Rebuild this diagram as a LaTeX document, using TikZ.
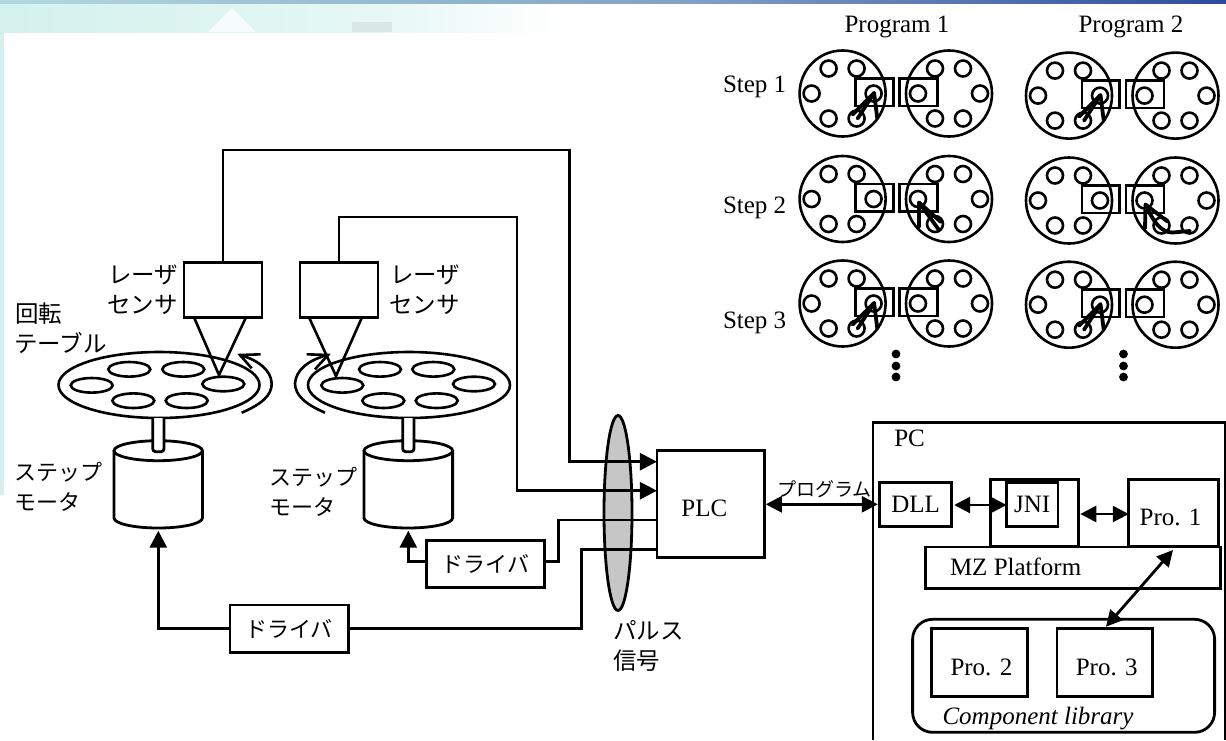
\documentclass[tikz,border=0pt]{standalone}
\usepackage{fontspec}
\usetikzlibrary{arrows.meta,shapes.geometric,calc}
\setmainfont{Liberation Serif}
\newfontfamily\jpfont{Noto Sans CJK JP}
\definecolor{bandA}{HTML}{B2DADE}
\definecolor{bandB}{HTML}{7FA0C4}
\definecolor{bandC}{HTML}{2D4B9E}
\definecolor{texA}{HTML}{D4F1EE}
\definecolor{texB}{HTML}{E6F8F4}
\definecolor{patgray}{HTML}{C6C6C6}
\tikzset{
  boxnode/.style={draw,line width=2.8pt,inner sep=0pt,outer sep=0pt,fill=white,font=\fontsize{25}{30}\selectfont},
  serif/.style={inner sep=0pt,outer sep=0pt,font=\fontsize{25}{30}\selectfont},
  jp/.style={inner sep=0pt,outer sep=0pt,anchor=west,font=\jpfont\fontsize{23.5}{28}\selectfont},
  jpsmall/.style={inner sep=0pt,outer sep=0pt,anchor=west,font=\jpfont\fontsize{22}{26}\selectfont},
  wire/.style={line width=2.8pt,line join=miter},
  pit/.style={-{Triangle[length=17pt,width=17pt]}},
  both/.style={{Triangle[length=16pt,width=16pt]}-{Triangle[length=16pt,width=16pt]}},
  thin line/.style={line width=2.6pt},
  mark arrow/.style={line width=3.8pt,line cap=round,line join=round}
}
\newcommand{\wheelset}[2]{%
  \begin{scope}[shift={(#1,#2)}]
    \draw[thin line] (0,0) circle[radius=43pt];
    \foreach \hx/\hy in {-14/-25,14/-25,-31/0,31/0,-14/25,14/25}
      \draw[thin line] (\hx,\hy) circle[radius=8pt];
  \end{scope}}
\newcommand{\stepgroup}[3]{% x of left wheel, x of right wheel, y
  \wheelset{#1}{#3}\wheelset{#2}{#3}
  \begin{scope}[shift={(#1,#3)}]
    \draw[thin line] (12.8,-15) rectangle (50.7,12.4);
  \end{scope}
  \begin{scope}[shift={(#2,#3)}]
    \draw[thin line] (-49.7,-15) rectangle (-11.4,12.4);
  \end{scope}}
\newcommand{\markA}[2]{%
  \begin{scope}[shift={(#1,#2)}]
    \draw[mark arrow] (15,25) -- (31.5,-0.5);
    \draw[mark arrow] (10,21) -- (31.5,-0.5) -- (34.7,25);
  \end{scope}}
\newcommand{\markB}[2]{%
  \begin{scope}[shift={(#1,#2)}]
    \draw[mark arrow] (-10,31) -- (-30,3.5);
    \draw[mark arrow] (-30,28) -- (-30,3.5) -- (-8,23);
  \end{scope}}
\begin{document}
\begin{tikzpicture}[x=1pt,y=-1pt]
\useasboundingbox (0,0) rectangle (1226,740);
\fill[white] (0,0) rectangle (1226,740);
% backdrop
\shade[left color=texA,right color=texB] (0,3) rectangle (380,32);
\shade[left color=texB,right color=white] (380,3) rectangle (560,32);
\fill[texA] (0,32) rectangle (4,495);
\fill[white!80!texA] (208,32) -- (232,8) -- (256,32) -- cycle;
\fill[black!6!texB] (352,22) rectangle (392,32);
\shade[left color=bandA,right color=bandB] (0,0) rectangle (700,3);
\shade[left color=bandB,right color=bandC] (700,0) rectangle (1226,3);

% programs panel
\node[serif] (prog1) at (897,26.5) {Program 1};
\node[serif] (prog2) at (1131,26.5) {Program 2};
\node[serif,anchor=west] (step1) at (723,86.5) {Step 1};
\node[serif,anchor=west] (step2) at (723,207.5) {Step 2};
\node[serif,anchor=west] (step3) at (723,322.5) {Step 3};
\stepgroup{842.6}{949}{93.5}
\stepgroup{842.6}{949}{199}
\stepgroup{842.6}{949}{303.5}
\stepgroup{1069}{1175.5}{95.6}
\stepgroup{1069}{1175.5}{200.5}
\stepgroup{1069}{1175.5}{304.7}
\markA{842.6}{93.5}
\markB{949}{199}
\markA{842.6}{303.5}
\markA{1069}{95.6}
\markA{1069}{304.7}
\begin{scope}[shift={(1175.5,200.5)}]
  \draw[mark arrow] (-8,21) -- (-30,4) -- (-30.5,28);
  \draw[mark arrow] (14.4,30.5) -- (-3,32) .. controls (-14,32) and (-22,22) .. (-30,4);
\end{scope}
\foreach \dx in {896,1123.5}
  \foreach \dy in {354,366,377}
    \fill (\dx,\dy) circle[radius=4.4pt];

% pulse ellipse below the wires
\node[draw,fill=patgray,ellipse,line width=2.8pt,inner sep=0pt,outer sep=0pt,minimum width=28pt,minimum height=195pt] (pulse) at (618,513) {};

% sensors
\node[boxnode,minimum width=78pt,minimum height=54.6pt] (lsens) at (223,290) {};
\node[boxnode,minimum width=78pt,minimum height=54.6pt] (rsens) at (339,290) {};
\coordinate (lapex) at (219,375);
\coordinate (rapex) at (336,376);
\draw[thin line] (lsens.south -| 194,0) -- (lapex) -- (lsens.south -| 246,0);
\draw[thin line] (rsens.south -| 309,0) -- (rapex) -- (rsens.south -| 362,0);

% tables
\node[draw,ellipse,thin line,inner sep=0pt,outer sep=0pt,minimum width=201pt,minimum height=66pt] (ltable) at (159,385) {};
\node[draw,ellipse,thin line,inner sep=0pt,outer sep=0pt,minimum width=202pt,minimum height=66pt] (rtable) at (409,385) {};
\foreach \ex/\ey in {129.3/369.3,183.3/369.3,91.7/385.3,223.3/384,133.3/400.7,186.7/400.7,
                     380/369.3,433.3/369.3,342.3/385.3,474/384,383.3/400.7,436.7/400.7}
  \draw[thin line] (\ex,\ey) ellipse[x radius=21pt,y radius=7.3pt];

% rotation marks
\draw[thin line] (241.7,412.7) .. controls (262,404) and (272,395) .. (271.7,383.3) .. controls (271,370) and (258,360) .. (240,355);
\draw[thin line] (260.7,354.3) -- (240,355) -- (251.7,368.3);
\draw[thin line] (325,412.7) .. controls (305,404) and (295,395) .. (295,383.3) .. controls (296,370) and (308,360) .. (328,355);
\draw[thin line] (306.7,354.3) -- (328,355) -- (315,369.3);

% motors and shafts
\draw[wire] (158.2,450.7) ellipse[x radius=44.2pt,y radius=10pt];
\draw[wire] (114,450.7) -- (114,518) arc[start angle=180,end angle=360,x radius=44.2pt,y radius=10pt] -- (202.4,450.7);
\draw[wire] (408.3,450.7) ellipse[x radius=44.3pt,y radius=10pt];
\draw[wire] (364,450.7) -- (364,518) arc[start angle=180,end angle=360,x radius=44.3pt,y radius=10pt] -- (452.6,450.7);
\draw[wire,fill=white,rounded corners=3pt] (152.7,418) -- (152.7,451.7) -- (164,451.7) -- (164,418);
\draw[wire,fill=white,rounded corners=3pt] (402.7,418) -- (402.7,451.7) -- (414,451.7) -- (414,418);
\coordinate (lmotor) at (158.3,530.7);
\coordinate (rmotor) at (408.3,530.7);

% PLC and drivers
\node[boxnode,minimum width=107.4pt,minimum height=106.6pt] (plc) at (710.6,504) {};
\node[serif] (plclabel) at (704.4,508.3) {PLC};
\node[boxnode,minimum width=118pt,minimum height=46.6pt,font=\jpfont\fontsize{22}{26}\selectfont] (drvR) at (485.7,564) {ドライバ};
\node[boxnode,minimum width=118.3pt,minimum height=47.3pt,font=\jpfont\fontsize{22}{26}\selectfont] (drvL) at (289.2,628.6) {ドライバ};

% wires
\draw[wire,pit] (lsens.north) -- (223,150) -| (569.5,461.7) -- (plc.west |- 0,461.7);
\draw[wire,pit] (rsens.north) -- (339,217) -| (517,490.7) -- (plc.west |- 0,490.7);
\draw[wire] (plc.west |- 0,520) -| (558.7,561.7) -- (drvR.east |- 0,561.7);
\draw[wire] (plc.west |- 0,549.3) -| (581.7,628.3) -- (drvL.east |- 0,628.3);
\draw[wire,pit] (drvR.west |- 0,561.7) -| (rmotor);
\draw[wire,pit] (drvL.west |- 0,628.3) -| (lmotor);

% PC
\draw[wire] (873,740) -- (873,422.7) -- (1225,422.7) -- (1225,740);
\node[serif] (pclabel) at (909.6,438) {PC};
\node[boxnode,minimum width=88pt,minimum height=67.4pt] (jniouter) at (1034.3,513) {};
\node[boxnode,minimum width=89.7pt,minimum height=67.4pt] (pro1) at (1173.6,513) {};
\node[serif] (pro1label) at (1170.5,517.3) {Pro. 1};
\node[boxnode,minimum width=72.2pt,minimum height=44pt] (dll) at (915.6,504.7) {DLL};
\node[boxnode,minimum width=51.4pt,minimum height=44pt] (jni) at (1032.2,504.7) {JNI};
\node[boxnode,minimum width=295.3pt,minimum height=41.7pt] (platform) at (1073,567.8) {};
\node[serif,anchor=west] (platlabel) at (950,566.7) {MZ Platform};
\node[draw,line width=2.8pt,rounded corners=20pt,inner sep=0pt,outer sep=0pt,minimum width=302pt,minimum height=113pt] (library) at (1063.6,675.8) {};
\node[boxnode,minimum width=95.6pt,minimum height=68pt] (pro2) at (979.5,662.7) {};
\node[boxnode,minimum width=95.6pt,minimum height=68pt] (pro3) at (1104.8,662.7) {};
\node[serif] (pro2label) at (981.4,667.7) {Pro. 2};
\node[serif] (pro3label) at (1106.7,667.7) {Pro. 3};
\node[serif] (liblabel) at (1038,719) {\itshape Component library};
\node[inner sep=0pt,outer sep=0pt,anchor=west,font=\jpfont\fontsize{19}{22}\selectfont] (proglabel) at (777.5,489) {プログラム};

\draw[wire,both] (plc.east |- 0,504.3) ++(1.5,0) -- (877.8,504.3);
\draw[wire,both] (dll.east |- 0,505) ++(2.5,0) -- (jni.west |- 0,505);
\draw[wire,both] (jniouter.east |- 0,514) ++(2,0) -- (pro1.west |- 0,514);
\coordinate (proA) at (1173,550);
\coordinate (proB) at (1106,626.7);
\draw[wire,both] (proA) -- (proB);

% Japanese labels
\node[jp] (ls1) at (108,275) {レーザ};
\node[jp] (ls2) at (107,305) {センサ};
\node[jp] (rs1) at (390,275) {レーザ};
\node[jp] (rs2) at (389,305) {センサ};
\node[jp] (tb1) at (15,314) {回転};
\node[jp] (tb2) at (14,343) {テーブル};
\node[jpsmall] (ml1) at (14,471.7) {ステップ};
\node[jpsmall] (ml2) at (14,501.7) {モータ};
\node[jpsmall] (mr1) at (269,477) {ステップ};
\node[jpsmall] (mr2) at (269,507) {モータ};
\node[jp] (ps1) at (613,630) {パルス};
\node[jp] (ps2) at (613,660.7) {信号};
\end{tikzpicture}
\end{document}
